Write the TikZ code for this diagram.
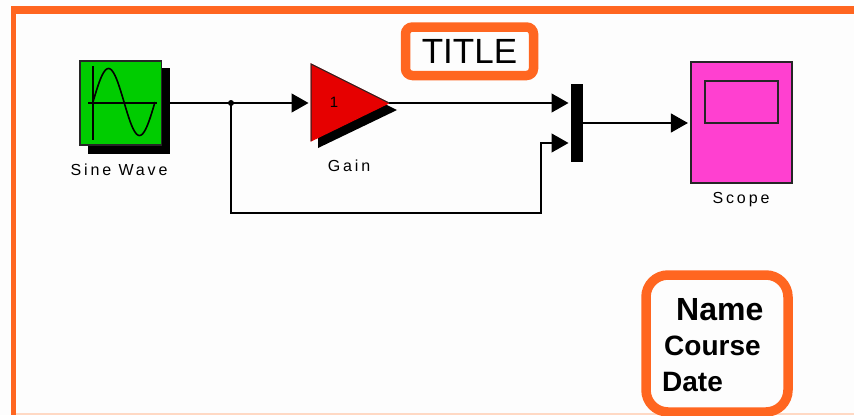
\documentclass[tikz,border=0pt]{standalone}
\usepackage{fontspec}
\setmainfont{Liberation Sans}
\newfontfamily\blockfont[LetterSpace=18]{Liberation Sans}
\usetikzlibrary{arrows.meta}
\definecolor{frameorange}{HTML}{FF6620}
\definecolor{framefaint}{HTML}{FFD9C4}
\definecolor{paperwhite}{HTML}{FDFDFD}
\definecolor{sinegreen}{HTML}{00CC00}
\definecolor{gainred}{HTML}{E60000}
\definecolor{scopepink}{HTML}{FF40D0}
\tikzset{
  sigline/.style={line width=1.3pt, -{Triangle[length=17pt,width=19pt]}, shorten >=2.5pt},
  blockbox/.style={draw=black!85, line width=1.2pt, inner sep=0pt},
  blocklabel/.style={font=\blockfont\fontsize{16}{16}\selectfont, inner sep=0pt, text=black},
  noteframe/.style={draw=frameorange, line width=9.5pt, rounded corners=#1, inner sep=0pt},
  notetext/.style={font=\bfseries\fontsize{#1}{#1}\selectfont, anchor=base west, inner sep=0pt}
}
\begin{document}
\begin{tikzpicture}[x=1pt, y=-1pt]
\useasboundingbox (0,0) rectangle (854,415);
\fill[paperwhite] (0,0) rectangle (854,415);
% frame
\draw[framefaint, line width=2pt] (16,414) -- (854,414);
\draw[frameorange, line width=8pt] (854,10) -- (15,10);
\draw[frameorange, line width=5pt] (13.5,6) -- (13.5,415);
% Sine Wave
\fill[black] (88,68) rectangle (170,154);
\node[blockbox, fill=sinegreen, minimum width=81.5pt, minimum height=84pt] (sine) at (120.75,103) {};
\draw[line width=1.6pt] (93,66) -- (93,140);
\draw[line width=1.6pt] (88,103) -- (157,103);
\draw[line width=1.6pt] plot[domain=0:360, samples=60, smooth] ({93+\x/360*62},{102-33.5*sin(\x)});
\node[blocklabel] (sinelabel) at (119,170) {Sine Wave};
% Gain
\fill[black] (318,71) -- (318,148) -- (397,110) -- cycle;
\draw[gainred, fill=gainred, line width=1pt] (311,64) -- (311,141) -- (389,103) -- cycle;
\draw[black!85, line width=1pt] (311,141) -- (311,64) -- (389,103);
\coordinate (gainin) at (311,103);
\coordinate (gainout) at (389,103);
\node[inner sep=0pt, font=\fontsize{15}{15}\selectfont] (gainval) at (334,102) {1};
\node[blocklabel] (gainlabel) at (349,166) {Gain};
% Mux
\node[fill=black, inner sep=0pt, minimum width=12pt, minimum height=78pt] (mux) at (577,123) {};
\coordinate (muxa) at (571,103);
\coordinate (muxb) at (571,143);
% Scope
\node[blockbox, fill=scopepink, minimum width=101pt, minimum height=121pt] (scope) at (741.5,122.5) {};
\node[draw=black!85, line width=1.4pt, inner sep=0pt, minimum width=73pt, minimum height=42pt] (screen) at (741.5,102) {};
\node[blocklabel] (scopelabel) at (741,200) {Scope};
% signals
\coordinate (branch) at (231,103);
\coordinate (fbleft) at (231,213);
\coordinate (fbright) at (541,213);
\draw[sigline] (sine.east) -- (gainin);
\draw[sigline] (gainout) -- (muxa);
\draw[sigline] (branch) -- (fbleft) -- (fbright) -- (fbright |- muxb) -- (muxb);
\draw[sigline] (mux.east) -- (mux.east -| scope.west);
\fill[black] (branch) circle (3pt);
% notes
\node[noteframe=7pt, minimum width=128pt, minimum height=48.5pt, font=\fontsize{35}{35}\selectfont] (title) at (469.5,51.25) {TITLE};
\node[noteframe=22pt, minimum width=142pt, minimum height=137pt] (info) at (717,343.5) {};
\node[notetext=32] (name) at (676,320) {Name};
\node[notetext=28] (course) at (664,355) {Course};
\node[notetext=28] (date) at (662,391) {Date};
\end{tikzpicture}
\end{document}
